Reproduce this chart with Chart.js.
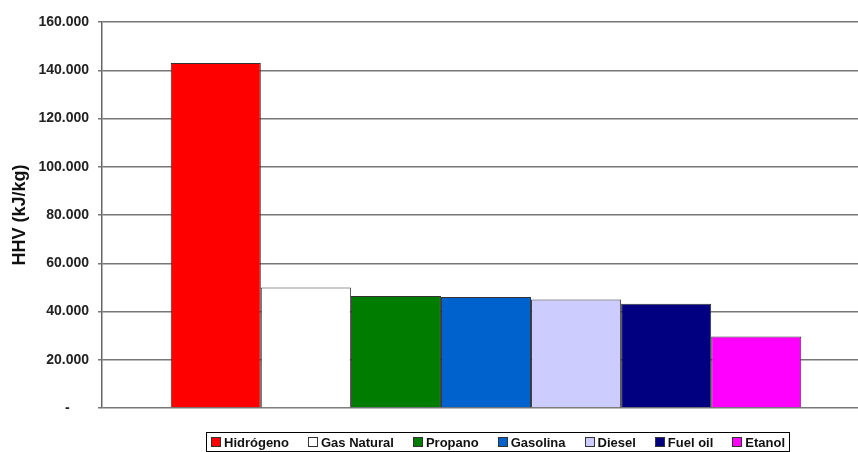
<!DOCTYPE html>
<html>
<head>
<meta charset="utf-8">
<script src="https://cdn.jsdelivr.net/npm/chart.js@4"></script>
<style>
  html, body { margin: 0; padding: 0; background: #fff; overflow: hidden; }
  #wrap { position: relative; width: 870px; height: 452px; }
  #legend {
    position: absolute; left: 206px; top: 432px; width: 574px; height: 18px;
    border: 1px solid #000; display: flex; justify-content: space-between; align-items: center;
    padding: 0 4px; box-sizing: content-box;
    font: bold 13px "Liberation Sans", Arial, sans-serif; color: #111; white-space: nowrap;
  }
  #legend span.item { display: flex; align-items: center; }
  #legend i { display: inline-block; width: 8px; height: 8px; border: 1px solid #333; margin-right: 3px; }
</style>
</head>
<body>
<div id="wrap">
  <canvas id="hhvChart" width="870" height="452"></canvas>
  <div id="legend"></div>
</div>
<script>
const fuels = ["Hidrógeno", "Gas Natural", "Propano", "Gasolina", "Diesel", "Fuel oil", "Etanol"];
const hhvValues = [143000, 50000, 46400, 46000, 45000, 43200, 29600];
const fuelColors = ["#ff0000", "#ffffff", "#007d00", "#0062cc", "#ccccff", "#000080", "#ff00ff"];
const yTicks = [0, 20000, 40000, 60000, 80000, 100000, 120000, 140000, 160000];

const datasets = fuels.map((name, i) => ({
  label: name,
  data: [hhvValues[i]],
  backgroundColor: fuelColors[i],
  borderColor: "#333",
  borderWidth: 1,
  barPercentage: 1,
  categoryPercentage: 0.821,
}));

// Spanish style thousands, zero shown as a dash like the Excel accounting format
function formatTick(v) {
  if (v === 0) return "-     ";
  return v.toLocaleString("en-US").replace(/,/g, ".");
}

new Chart(document.getElementById("hhvChart"), {
  type: "bar",
  data: { labels: [""], datasets: datasets },
  options: {
    responsive: false,
    animation: false,
    layout: { padding: { top: 22, bottom: 44, left: 0, right: 0 } },
    plugins: { legend: { display: false }, tooltip: { enabled: false } },
    scales: {
      x: { display: false },
      y: {
        min: 0,
        max: 160000,
        afterBuildTicks: (scale) => { scale.ticks = yTicks.map((v) => ({ value: v })); },
        afterFit: (scale) => { scale.width = 102; },
        ticks: {
          callback: (v) => formatTick(v),
          font: { family: "Liberation Sans", size: 14, weight: "bold" },
          color: "#222",
          padding: 9,
        },
        grid: { color: "#777", lineWidth: 1.5, tickLength: 4 },
        border: { color: "#666", width: 1.5 },
        title: {
          display: true,
          text: "HHV (kJ/kg)",
          font: { family: "Liberation Sans", size: 18, weight: "bold" },
          color: "#111",
          padding: { top: 9, bottom: 0 },
        },
      },
    },
  },
});

const legendEl = document.getElementById("legend");
fuels.forEach((name, i) => {
  const item = document.createElement("span");
  item.className = "item";
  const box = document.createElement("i");
  box.style.background = fuelColors[i];
  item.appendChild(box);
  item.appendChild(document.createTextNode(name));
  legendEl.appendChild(item);
});
</script>
</body>
</html>
